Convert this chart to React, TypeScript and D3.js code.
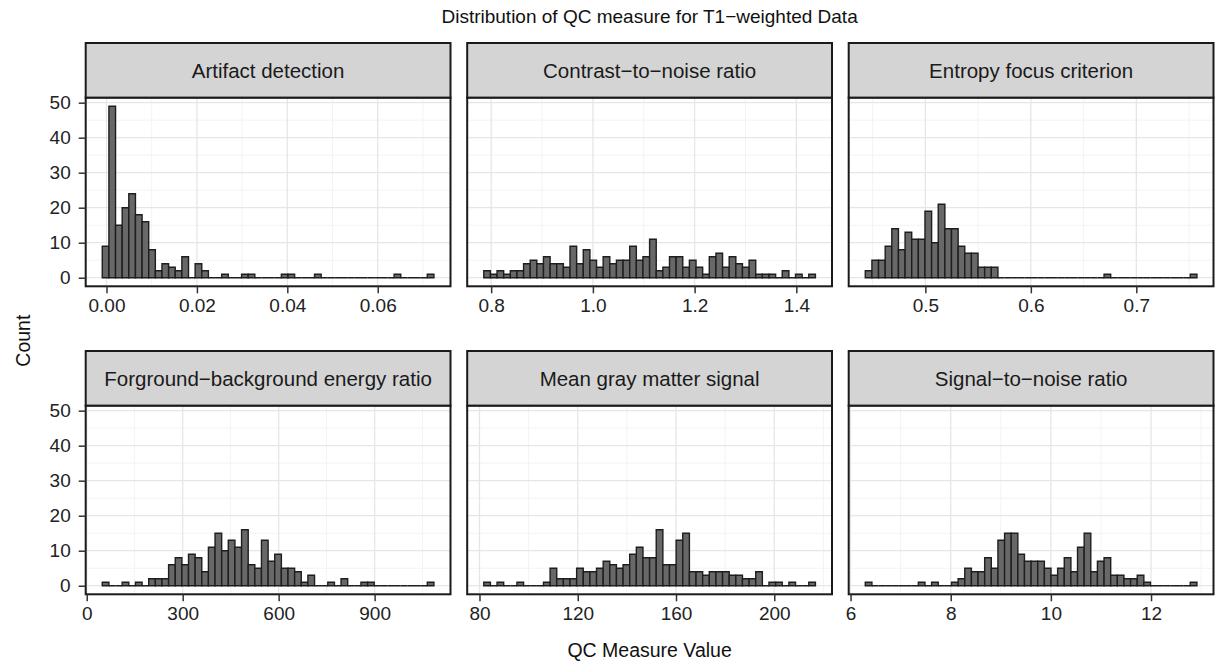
import { useEffect, useRef } from 'react';
import * as d3 from 'd3';

// counts per bin (50 bins each)
const artifactCounts = [
  9, 49, 15, 20, 24, 18, 16, 8, 2, 4, 3, 2, 6, 0, 4, 2, 0, 0, 1, 0,
  0, 1, 1, 0, 0, 0, 0, 1, 1, 0, 0, 0, 1, 0, 0, 0, 0, 0, 0, 0,
  0, 0, 0, 0, 1, 0, 0, 0, 0, 1,
];
const cnrCounts = [
  2, 1, 2, 1, 2, 2, 4, 5, 4, 6, 4, 4, 3, 9, 4, 8, 5, 3, 6, 4,
  5, 5, 9, 5, 6, 11, 2, 3, 6, 6, 3, 5, 3, 1, 6, 7, 3, 6, 4, 3,
  5, 1, 1, 1, 0, 2, 0, 1, 0, 1,
];
const efcCounts = [
  2, 5, 5, 9, 14, 8, 13, 11, 11, 19, 10, 21, 14, 14, 9, 7, 7, 3, 3, 3,
  0, 0, 0, 0, 0, 0, 0, 0, 0, 0, 0, 0, 0, 0, 0, 0, 1, 0, 0, 0,
  0, 0, 0, 0, 0, 0, 0, 0, 0, 1,
];
const fberCounts = [
  1, 0, 0, 1, 0, 1, 0, 2, 2, 2, 6, 8, 6, 9, 8, 4, 11, 15, 10, 13,
  11, 16, 6, 5, 13, 7, 9, 5, 5, 4, 1, 3, 0, 0, 1, 0, 2, 0, 0, 1,
  1, 0, 0, 0, 0, 0, 0, 0, 0, 1,
];
const gmCounts = [
  1, 0, 1, 0, 0, 1, 0, 0, 0, 1, 5, 2, 2, 2, 5, 4, 4, 5, 7, 6,
  5, 6, 9, 11, 8, 8, 16, 6, 6, 13, 15, 4, 4, 3, 4, 4, 4, 3, 3, 2,
  2, 4, 0, 1, 1, 0, 1, 0, 0, 1,
];
const snrCounts = [
  1, 0, 0, 0, 0, 0, 0, 0, 1, 0, 1, 0, 0, 1, 2, 5, 4, 4, 8, 5,
  13, 15, 15, 9, 7, 7, 7, 5, 3, 5, 8, 4, 11, 15, 4, 7, 8, 3, 3, 2,
  2, 3, 1, 0, 0, 0, 0, 0, 0, 1,
];

// centre of first and last bin per panel
const binCentres: [number, number][] = [
  [-0.0002, 0.0717],
  [0.792, 1.431],
  [0.4462, 0.7543],
  [59, 1075],
  [83.1, 215.4],
  [6.36, 12.85],
];

const panelTitles = [
  'Artifact detection',
  'Contrast\u2212to\u2212noise ratio',
  'Entropy focus criterion',
  'Forground\u2212background energy ratio',
  'Mean gray matter signal',
  'Signal\u2212to\u2212noise ratio',
];

const xTickValues = [
  [0, 0.02, 0.04, 0.06],
  [0.8, 1.0, 1.2, 1.4],
  [0.5, 0.6, 0.7],
  [0, 300, 600, 900],
  [80, 120, 160, 200],
  [6, 8, 10, 12],
];
const xTickLabels = [
  ['0.00', '0.02', '0.04', '0.06'],
  ['0.8', '1.0', '1.2', '1.4'],
  ['0.5', '0.6', '0.7'],
  ['0', '300', '600', '900'],
  ['80', '120', '160', '200'],
  ['6', '8', '10', '12'],
];
const yTickValues = [0, 10, 20, 30, 40, 50];

const allCounts = [artifactCounts, cnrCounts, efcCounts, fberCounts, gmCounts, snrCounts];

const W = 1218;
const H = 669;
const FONT = '"Liberation Sans", Arial, Helvetica, sans-serif';

export default function App() {
  const svgRef = useRef<SVGSVGElement>(null);

  useEffect(() => {
    if (!svgRef.current) return;
    const svg = d3.select(svgRef.current);
    svg.selectAll('*').remove();

    const left0 = 85.7;
    const panelW = 364.8;
    const gapX = 16.7;
    const stripH = 54.6;
    const panelH = 188.7;
    const stripTops = [43, 351];

    const maxCount = d3.max(allCounts, (c) => d3.max(c)) ?? 1;
    const yPad = maxCount * 0.05;

    svg.append('rect').attr('width', W).attr('height', H).attr('fill', '#fff');

    // title
    svg.append('text')
      .attr('x', left0 + (3 * panelW + 2 * gapX) / 2)
      .attr('y', 23)
      .attr('text-anchor', 'middle')
      .attr('font-family', FONT)
      .attr('font-size', 19)
      .attr('fill', '#111')
      .text('Distribution of QC measure for T1\u2212weighted Data');

    allCounts.forEach((counts, p) => {
      const col = p % 3;
      const row = Math.floor(p / 3);
      const px = left0 + col * (panelW + gapX);
      const stripTop = stripTops[row];
      const top = stripTop + stripH;
      const bottom = top + panelH;

      const [c0, c1] = binCentres[p];
      const bw = (c1 - c0) / (counts.length - 1);
      const lo = c0 - bw / 2;
      const hi = c1 + bw / 2;
      const pad = (hi - lo) * 0.05;

      const x = d3.scaleLinear().domain([lo - pad, hi + pad]).range([px, px + panelW]);
      const y = d3.scaleLinear().domain([-yPad, maxCount + yPad]).range([bottom, top]);

      const g = svg.append('g');

      g.append('rect')
        .attr('x', px).attr('y', top)
        .attr('width', panelW).attr('height', panelH)
        .attr('fill', '#fff');

      // minor grid
      const ticks = xTickValues[p];
      const step = ticks[1] - ticks[0];
      const [dlo, dhi] = x.domain();
      const xMinor = [ticks[0] - step / 2, ...ticks.map((t) => t + step / 2)]
        .filter((v) => v > dlo && v < dhi);
      const yMinor = [5, 15, 25, 35, 45];

      g.selectAll('.xminor').data(xMinor).join('line')
        .attr('x1', (d) => x(d)).attr('x2', (d) => x(d))
        .attr('y1', top).attr('y2', bottom)
        .attr('stroke', '#f3f3f3').attr('stroke-width', 1);
      g.selectAll('.yminor').data(yMinor).join('line')
        .attr('x1', px).attr('x2', px + panelW)
        .attr('y1', (d) => y(d)).attr('y2', (d) => y(d))
        .attr('stroke', '#f3f3f3').attr('stroke-width', 1);

      // major grid
      g.selectAll('.xmajor').data(ticks).join('line')
        .attr('x1', (d) => x(d)).attr('x2', (d) => x(d))
        .attr('y1', top).attr('y2', bottom)
        .attr('stroke', '#e6e6e6').attr('stroke-width', 1.3);
      g.selectAll('.ymajor').data(yTickValues).join('line')
        .attr('x1', px).attr('x2', px + panelW)
        .attr('y1', (d) => y(d)).attr('y2', (d) => y(d))
        .attr('stroke', '#e6e6e6').attr('stroke-width', 1.3);

      // bars (zero bins drawn too, as flat outlines)
      g.selectAll('.bar').data(counts).join('path')
        .attr('d', (c, i) => {
          const x0 = x(lo + i * bw);
          const x1 = x(lo + (i + 1) * bw);
          const y0 = y(0);
          const y1 = y(c);
          return `M${x0},${y0}V${y1}H${x1}V${y0}Z`;
        })
        .attr('fill', '#686868')
        .attr('stroke', '#1e1e1e')
        .attr('stroke-width', 1.4)
        .attr('stroke-linejoin', 'miter');

      // panel border
      g.append('rect')
        .attr('x', px).attr('y', top)
        .attr('width', panelW).attr('height', panelH)
        .attr('fill', 'none')
        .attr('stroke', '#1a1a1a').attr('stroke-width', 2);

      // strip
      g.append('rect')
        .attr('x', px).attr('y', stripTop)
        .attr('width', panelW).attr('height', stripH)
        .attr('fill', '#d4d4d4')
        .attr('stroke', '#1a1a1a').attr('stroke-width', 2);
      g.append('text')
        .attr('x', px + panelW / 2)
        .attr('y', stripTop + stripH / 2)
        .attr('dy', '0.36em')
        .attr('text-anchor', 'middle')
        .attr('font-family', FONT)
        .attr('font-size', 20.5)
        .attr('fill', '#1a1a1a')
        .text(panelTitles[p]);

      // x axis
      const xAxis = g.append('g').attr('transform', `translate(0,${bottom})`)
        .call(
          d3.axisBottom(x)
            .tickValues(ticks)
            .tickSize(7)
            .tickPadding(5)
            .tickFormat((_d, i) => xTickLabels[p][i])
        );
      xAxis.select('.domain').remove();
      xAxis.selectAll('.tick line').attr('stroke', '#333').attr('stroke-width', 1.5);
      xAxis.selectAll('.tick text')
        .attr('fill', '#222')
        .attr('font-family', FONT)
        .attr('font-size', 19);

      // y axis on first column
      if (col === 0) {
        const yAxis = g.append('g').attr('transform', `translate(${px},0)`)
          .call(d3.axisLeft(y).tickValues(yTickValues).tickSize(7).tickPadding(8));
        yAxis.select('.domain').remove();
        yAxis.selectAll('.tick line').attr('stroke', '#333').attr('stroke-width', 1.5);
        yAxis.selectAll('.tick text')
          .attr('fill', '#222')
          .attr('font-family', FONT)
          .attr('font-size', 19);
      }
    });

    // axis titles
    svg.append('text')
      .attr('x', left0 + (3 * panelW + 2 * gapX) / 2)
      .attr('y', 657)
      .attr('text-anchor', 'middle')
      .attr('font-family', FONT)
      .attr('font-size', 19.5)
      .attr('fill', '#111')
      .text('QC Measure Value');

    svg.append('text')
      .attr('transform', `translate(30,${(stripTops[0] + stripTops[1] + stripH + panelH) / 2 + 22}) rotate(-90)`)
      .attr('text-anchor', 'middle')
      .attr('font-family', FONT)
      .attr('font-size', 19.5)
      .attr('fill', '#111')
      .text('Count');
  }, []);

  return (
    <div>
      <style>{'body{margin:0}'}</style>
      <svg ref={svgRef} width={W} height={H} style={{ display: 'block' }} />
    </div>
  );
}
